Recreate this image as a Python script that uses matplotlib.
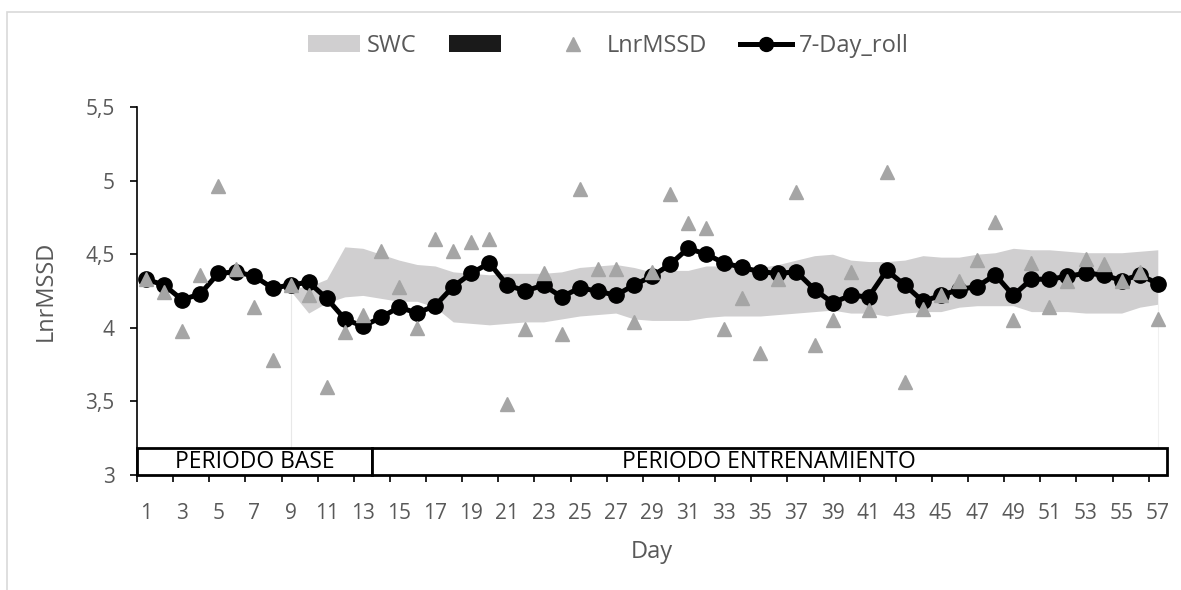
import numpy as np
import matplotlib.pyplot as plt
from matplotlib.patches import Patch, Rectangle
from matplotlib.lines import Line2D

plt.rcParams['font.family'] = ['Open Sans', 'DejaVu Sans']

# datos
days = list(range(1, 58))
lnrmssd = [4.33, 4.24, 3.98, 4.36, 4.96, 4.40, 4.14, 3.78, 4.29, 4.22,
           3.60, 3.97, 4.09, 4.52, 4.28, 4.00, 4.60, 4.52, 4.58, 4.60,
           3.48, 3.99, 4.37, 3.96, 4.94, 4.40, 4.40, 4.04, 4.38, 4.91,
           4.71, 4.68, 3.99, 4.20, 3.83, 4.33, 4.92, 3.88, 4.05, 4.38,
           4.12, 5.06, 3.63, 4.13, 4.22, 4.32, 4.46, 4.72, 4.05, 4.44,
           4.14, 4.32, 4.47, 4.43, 4.32, 4.38, 4.06]
roll7 = [4.33, 4.29, 4.19, 4.23, 4.37, 4.38, 4.35, 4.27, 4.29, 4.31,
         4.20, 4.06, 4.01, 4.07, 4.14, 4.10, 4.15, 4.28, 4.37, 4.44,
         4.29, 4.25, 4.29, 4.21, 4.27, 4.25, 4.22, 4.29, 4.35, 4.43,
         4.54, 4.50, 4.44, 4.41, 4.38, 4.37, 4.38, 4.26, 4.17, 4.22,
         4.21, 4.39, 4.29, 4.18, 4.22, 4.26, 4.28, 4.36, 4.22, 4.33,
         4.33, 4.35, 4.37, 4.36, 4.32, 4.36, 4.30]
# SWC (banda) desde el dia 9
swc_days = list(range(9, 58))
swc_low = [4.25, 4.10, 4.17, 4.21, 4.22, 4.20, 4.18, 4.18, 4.14, 4.04,
           4.03, 4.02, 4.03, 4.04, 4.04, 4.06, 4.08, 4.09, 4.10, 4.06,
           4.05, 4.05, 4.05, 4.07, 4.08, 4.08, 4.08, 4.09, 4.10, 4.11,
           4.12, 4.10, 4.10, 4.08, 4.10, 4.11, 4.11, 4.14, 4.15, 4.15,
           4.15, 4.11, 4.11, 4.11, 4.10, 4.10, 4.10, 4.14, 4.16]
swc_up = [4.27, 4.28, 4.33, 4.55, 4.54, 4.50, 4.46, 4.43, 4.42, 4.38,
          4.37, 4.36, 4.37, 4.37, 4.37, 4.38, 4.41, 4.42, 4.43, 4.41,
          4.38, 4.39, 4.39, 4.42, 4.42, 4.42, 4.41, 4.43, 4.46, 4.49,
          4.50, 4.46, 4.45, 4.45, 4.46, 4.49, 4.48, 4.48, 4.50, 4.51,
          4.54, 4.53, 4.53, 4.52, 4.51, 4.51, 4.51, 4.52, 4.53]
periods = ['PERIODO BASE', 'PERIODO ENTRENAMIENTO']
period_edges = [0.5, 13.5, 57.5]
yticks = [3, 3.5, 4, 4.5, 5, 5.5]
ytick_labels = ['3', '3,5', '4', '4,5', '5', '5,5']

grey_txt = '#595959'
fig = plt.figure(figsize=(11.81, 5.90), dpi=100)
ax = fig.add_axes([0.116, 0.195, 0.872, 0.6236])

# marco del grafico
fig.patches.append(Rectangle((7/1181, -0.05), 1.2, 1 - 12/590 + 0.05,
                             transform=fig.transFigure, fill=False,
                             edgecolor='#d9d9d9', lw=1.2))

ax.fill_between(swc_days, swc_low, swc_up, color='#d0cfd0', lw=0, zorder=1)
# lineas finas en los bordes de la banda
ax.plot([swc_days[0], swc_days[0]], [3, swc_low[0]], color='#e8e8e8', lw=0.8, zorder=1)
ax.plot([swc_days[-1], swc_days[-1]], [3, swc_low[-1]], color='#f0f0f0', lw=0.8, zorder=1)

ax.plot(days, roll7, color='black', lw=3.6, marker='o', markersize=11, zorder=3)
ax.plot(days, lnrmssd, ls='none', marker='^', color='#a5a5a5', markersize=10.5, zorder=4)

# cajas de periodos
for i, name in enumerate(periods):
    x0, x1 = period_edges[i], period_edges[i + 1]
    ax.add_patch(Rectangle((x0, 3), x1 - x0, 0.18, facecolor='white',
                           edgecolor='black', lw=2, zorder=5, clip_on=False))
    ax.text((x0 + x1) / 2, 3.09, name, ha='center', va='center',
            fontsize=16.5, color='black', zorder=6)

ax.set_xlim(0.5, 57.5)
ax.set_ylim(3, 5.5)
ax.set_yticks(yticks)
ax.set_yticklabels(ytick_labels)
ax.set_xticks(days[::2])
ax.set_xticks(np.arange(0.5, 57, 2), minor=True)
ax.tick_params(axis='x', which='major', length=0, pad=20, labelsize=15, labelcolor=grey_txt)
ax.tick_params(axis='x', which='minor', length=5, width=1.2, direction='out')
ax.tick_params(axis='y', length=5, width=1.2, pad=11, labelsize=15, labelcolor=grey_txt)

for s in ['top', 'right']:
    ax.spines[s].set_visible(False)
for s in ['left', 'bottom']:
    ax.spines[s].set_linewidth(1.2)

ax.set_ylabel('LnrMSSD', fontsize=17, color=grey_txt, labelpad=20)
ax.set_xlabel('Day', fontsize=17, color=grey_txt, labelpad=12)

handles = [Patch(facecolor='#d0cfd0', label='SWC'),
           Patch(facecolor='#1a1a1a', label=' '),
           Line2D([], [], ls='none', marker='^', color='#a5a5a5', markersize=10, label='LnrMSSD'),
           Line2D([], [], color='black', lw=3.6, marker='o', markersize=10, label='7-Day_roll')]
leg = fig.legend(handles=handles, ncol=4, loc='center', bbox_to_anchor=(0.515, 0.922),
                 frameon=False, fontsize=17, handlelength=2.2, handleheight=0.7,
                 columnspacing=1.4, handletextpad=0.3)
for t in leg.get_texts():
    t.set_color(grey_txt)

plt.savefig('out.png', dpi=100)
